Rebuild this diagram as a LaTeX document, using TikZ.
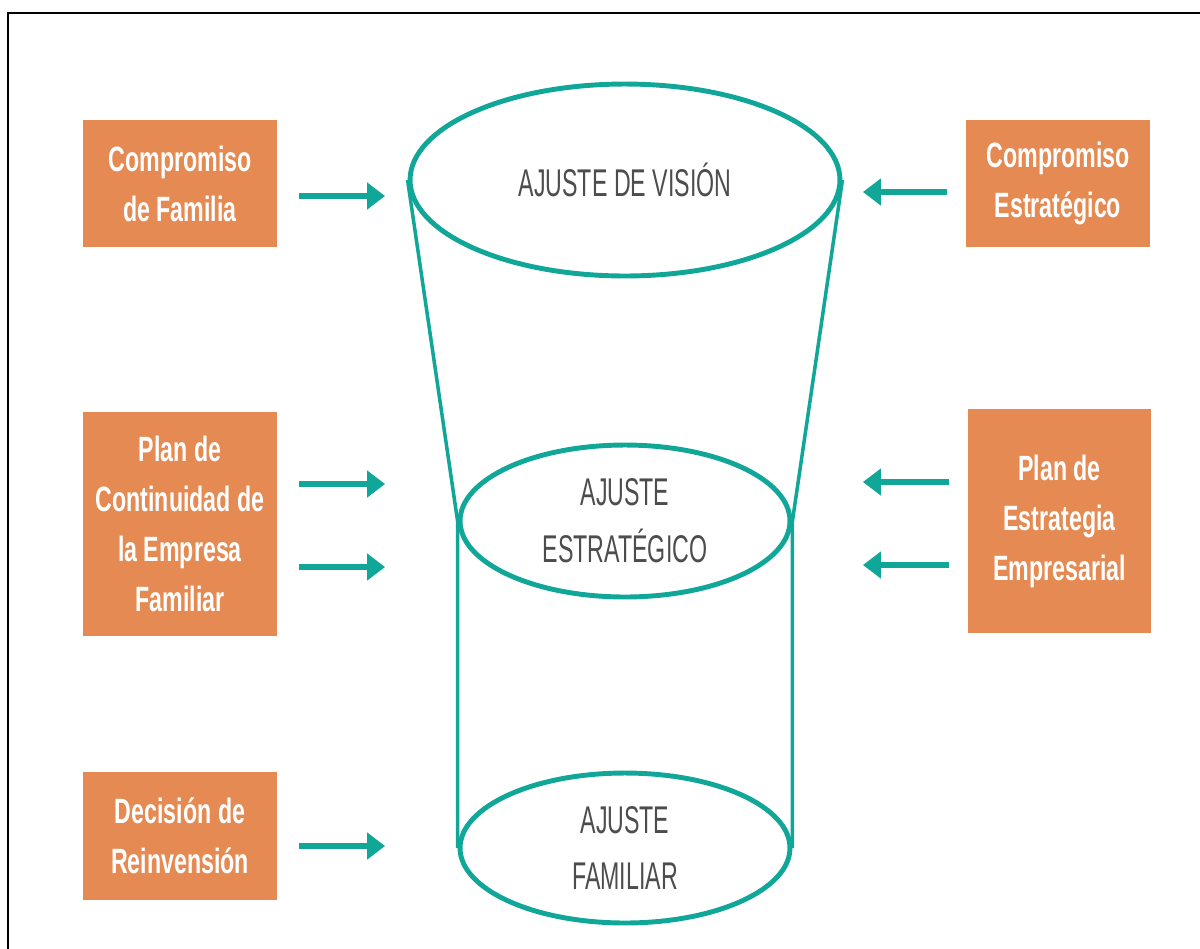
\documentclass[tikz,border=0pt]{standalone}
\usepackage{fontspec}
\usepackage{tikz}
\usetikzlibrary{arrows.meta,shapes.geometric}
\newfontfamily\boxfont[FakeStretch=0.66]{Liberation Sans}
\newfontfamily\ringfont[FakeStretch=0.6]{Liberation Sans}
\definecolor{naranja}{HTML}{E48A52}
\definecolor{verde}{HTML}{10A698}
\definecolor{gris}{HTML}{4D4D4F}
\tikzstyle{arr}=[-{Triangle[length=0.36cm,width=0.52cm]},verde,line width=3.4pt]
\tikzstyle{caja}=[rectangle,fill=naranja,text=white,inner sep=0pt,align=center,font=\boxfont\bfseries\fontsize{20}{28.5}\selectfont]
\tikzstyle{aro}=[ellipse,draw=verde,line width=2.8pt,inner sep=0pt,align=center,text=gris,font=\ringfont\fontsize{22}{32.4}\selectfont]

\begin{document}
\begin{tikzpicture}[x=0.02cm,y=-0.02cm]
\useasboundingbox (0,0) rectangle (1200,948);
\draw[line width=1.6pt] (8,1000) -- (8,13) -- (1250,13);
% aros
\node[aro,minimum width=8.6cm,minimum height=3.84cm] (av) at (625,180) {AJUSTE DE VISIÓN};
\node[aro,minimum width=6.6cm,minimum height=3.04cm] (ae) at (625,521) {AJUSTE\\ESTRATÉGICO};
\node[aro,minimum width=6.6cm,minimum height=3cm] (af) at (625,848) {AJUSTE\\FAMILIAR};
\draw[verde,line width=2pt] (av.west) -- (ae.west) -- (af.west);
\draw[verde,line width=2pt] (av.east) -- (ae.east) -- (af.east);
% cajas
\node[caja,minimum width=3.88cm,minimum height=2.54cm] (cf) at (180,183.5) {Compromiso\\de Familia};
\node[caja,minimum width=3.88cm,minimum height=4.48cm] (pc) at (180,524) {Plan de\\Continuidad de\\la Empresa\\Familiar};
\node[caja,minimum width=3.88cm,minimum height=2.56cm] (dr) at (180,836) {Decisión de\\Reinvensión};
\node[caja,minimum width=3.68cm,minimum height=2.54cm] (ce) at (1058,183.5) {Compromiso\\Estratégico};
\node[caja,minimum width=3.66cm,minimum height=4.48cm] (pe) at (1059.5,521) {Plan de\\Estrategia\\Empresarial};
% flechas
\foreach \s/\y in {cf/-0.25,pc/0.8,pc/-0.86,dr/-0.2}{
  \coordinate (t) at ([yshift=\y cm]\s.east);
  \draw[arr,shorten <=0.44cm,shorten >=0.45cm] (t) -- (t -| av.west);
}
\foreach \s/\y in {ce/-0.17,pe/0.78,pe/-0.88}{
  \coordinate (t) at ([yshift=\y cm]\s.west);
  \draw[arr,shorten <=0.38cm,shorten >=0.41cm] (t) -- (t -| av.east);
}
\end{tikzpicture}
\end{document}
